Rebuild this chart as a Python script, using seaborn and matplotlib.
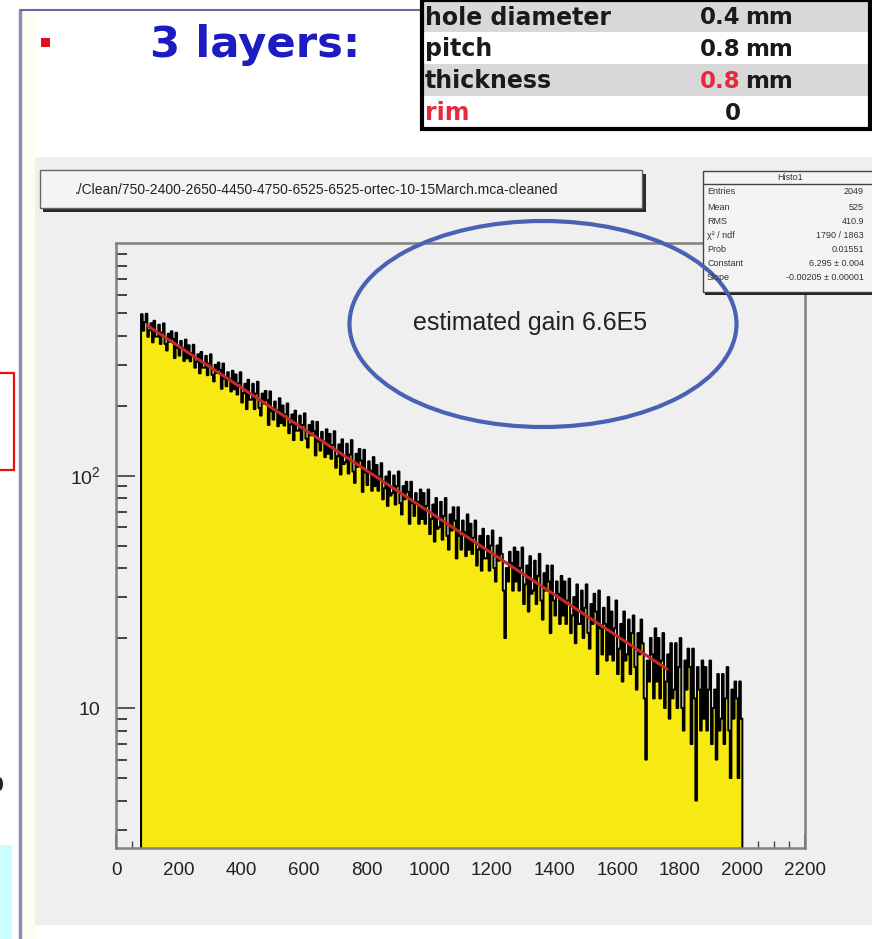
import numpy as np
import pandas as pd
import seaborn as sns
import matplotlib
matplotlib.use("Agg")
import matplotlib.pyplot as plt
from matplotlib import ticker
from matplotlib.patches import Rectangle, Ellipse

# ---------------- data ----------------
bin_start = 80
bin_width = 5
counts = [
    494, 420, 457, 496, 395, 421, 452, 374, 463, 396,
    396, 445, 368, 412, 451, 368, 345, 407, 376, 417,
    387, 320, 411, 354, 328, 379, 354, 311, 384, 319,
    363, 310, 336, 365, 291, 309, 332, 275, 340, 291,
    291, 327, 270, 303, 332, 271, 254, 299, 276, 306,
    285, 236, 303, 261, 242, 278, 261, 230, 282, 235,
    272, 223, 249, 278, 206, 226, 248, 193, 258, 212,
    212, 248, 193, 225, 253, 195, 181, 225, 204, 231,
    211, 165, 230, 189, 174, 208, 191, 163, 215, 168,
    200, 164, 183, 204, 152, 166, 183, 142, 190, 156,
    156, 181, 142, 165, 185, 144, 132, 165, 149, 171,
    155, 122, 170, 140, 128, 154, 140, 120, 158, 124,
    151, 118, 135, 155, 108, 121, 136, 101, 143, 112,
    114, 137, 102, 123, 142, 104, 93, 124, 109, 130,
    116, 85, 129, 103, 91, 115, 105, 86, 120, 90,
    111, 86, 99, 113, 79, 88, 99, 74, 104, 82,
    84, 100, 75, 90, 104, 76, 68, 90, 79, 94,
    85, 62, 94, 76, 67, 84, 77, 62, 87, 65,
    84, 62, 74, 87, 56, 65, 75, 52, 80, 59,
    60, 77, 53, 67, 80, 55, 48, 68, 58, 73,
    64, 44, 73, 55, 48, 64, 57, 45, 68, 48,
    62, 46, 54, 64, 41, 48, 55, 39, 59, 44,
    44, 55, 39, 50, 58, 40, 35, 50, 43, 54,
    46, 32, 20, 40, 35, 47, 42, 32, 49, 35,
    47, 32, 40, 49, 28, 34, 41, 26, 45, 31,
    32, 43, 28, 37, 46, 29, 24, 38, 32, 41,
    35, 21, 41, 29, 25, 35, 31, 23, 37, 25,
    35, 23, 29, 36, 21, 25, 30, 19, 34, 23,
    23, 32, 20, 27, 34, 21, 18, 28, 23, 31,
    26, 14, 32, 22, 17, 27, 23, 16, 30, 17,
    26, 16, 22, 29, 14, 18, 23, 13, 26, 16,
    17, 24, 14, 21, 25, 15, 12, 21, 17, 24,
    19, 11, 6, 16, 13, 20, 17, 11, 22, 13,
    20, 11, 16, 21, 10, 13, 17, 9, 19, 11,
    12, 19, 10, 15, 20, 10, 8, 16, 12, 18,
    15, 7, 18, 11, 4, 15, 12, 8, 16, 9,
    15, 8, 12, 16, 7, 10, 12, 6, 14, 8,
    9, 14, 7, 11, 15, 8, 5, 12, 9, 13,
    11, 5, 13, 9,
]
fit_constant = 6.295
fit_slope = -0.00205
fit_range = [100, 1760]

x_tick_values = [0, 200, 400, 600, 800, 1000, 1200, 1400, 1600, 1800, 2000, 2200]
y_tick_values = [10, 100]
y_tick_labels = ["10", r"$\mathregular{10^{2}}$"]

title_path = "./Clean/750-2400-2650-4450-4750-6525-6525-ortec-10-15March.mca-cleaned"
stats_name = "Histo1"
stats_labels = ["Entries", "Mean", "RMS", "χ² / ndf", "Prob", "Constant", "Slope"]
stats_values = ["2049", "525", "410.9", "1790 / 1863", "0.01551",
                "6.295 ± 0.004", "-0.00205 ± 0.00001"]

table_labels = ["hole diameter", "pitch", "thickness", "rim"]
table_values = ["0.4", "0.8", "0.8", "0"]
table_units = ["mm", "mm", "mm", ""]
slide_title = "3 layers:"
note_text = "estimated gain 6.6E5"

# ---------------- style ----------------
sns.set_theme(style="ticks")
NARROW = ["Liberation Sans", "DejaVu Sans"]
plt.rcParams["font.family"] = ["DejaVu Sans"]
plt.rcParams["mathtext.fontset"] = "custom"
plt.rcParams["mathtext.rm"] = "Liberation Sans"

W, H = 872, 939
fig = plt.figure(figsize=(W / 100, H / 100), dpi=100)
fig.patch.set_facecolor("white")
renderer = fig.canvas.get_renderer()


def fit_width(t, target_px):
    w = t.get_window_extent(renderer).width
    if w > 0:
        t.set_fontsize(t.get_fontsize() * target_px / w)
    return t


# background / slide decorations (pixel coordinates)
bg = fig.add_axes([0, 0, 1, 1], zorder=0)
bg.set_xlim(0, W); bg.set_ylim(H, 0); bg.axis("off")
bg.add_patch(Rectangle((22, 10), 13, 929, facecolor="#fdfdf0", edgecolor="none"))
bg.add_patch(Rectangle((35, 157), 837, 768, facecolor="#efefef", edgecolor="none"))
bg.plot([20, 20], [10, 939], color="#8a8ab8", lw=2.5, solid_capstyle="butt")
bg.plot([20, 424], [10, 10], color="#6a6aa0", lw=1.5)
bg.add_patch(Rectangle((41, 38), 9, 9, facecolor="#e01020", edgecolor="none"))
bg.add_patch(Rectangle((-3, 373), 17, 97, facecolor="none", edgecolor="#ee1010", lw=1.6))
bg.add_patch(Rectangle((0, 845), 12, 94, facecolor="#ccffff", edgecolor="none"))
bg.add_patch(Ellipse((0, 784), 6, 13, facecolor="#222222", edgecolor="none"))
t = bg.text(255, 45, slide_title, color="#1c1cc0", fontsize=30, fontweight="bold",
            ha="center", va="center")
fit_width(t, 210)

# ---------------- main histogram axes ----------------
ax = fig.add_axes([116 / W, 1 - 848 / H, (805 - 116) / W, (848 - 243) / H], zorder=2)
ax.set_facecolor("#efefef")
ax.set_yscale("log")

n_bins = len(counts)
centers = bin_start + bin_width * (np.arange(n_bins) + 0.5)
df = pd.DataFrame({"x": centers, "w": counts})
sns.histplot(data=df, x="x", weights="w", binwidth=bin_width,
             binrange=(bin_start, bin_start + bin_width * n_bins),
             element="step", fill=True,
             facecolor="#f6ea12", edgecolor="black", linewidth=1.45, alpha=1,
             ax=ax, zorder=2)

fit_x = np.array(fit_range, dtype=float)
fit_df = pd.DataFrame({"x": fit_x, "y": np.exp(fit_constant + fit_slope * fit_x)})
sns.lineplot(data=fit_df, x="x", y="y", color="#c42a2a", lw=2.2, ax=ax, zorder=3)

ax.set_xlim(0, 2200)
ax.set_ylim(2.5, 1000)
ax.set_xlabel(""); ax.set_ylabel("")
ax.xaxis.set_major_locator(ticker.FixedLocator(x_tick_values))
ax.xaxis.set_minor_locator(ticker.MultipleLocator(50))
ax.yaxis.set_major_locator(ticker.FixedLocator(y_tick_values))
ax.yaxis.set_major_formatter(ticker.FixedFormatter(y_tick_labels))
ax.yaxis.set_minor_locator(ticker.LogLocator(base=10, subs=np.arange(2, 10)))
ax.yaxis.set_minor_formatter(ticker.NullFormatter())
ax.tick_params(axis="x", which="major", direction="in", length=10, width=1.2,
               color="#444444", pad=10, labelsize=13.5, labelcolor="#222222")
ax.tick_params(axis="x", which="minor", direction="in", length=5, width=1.0, color="#444444")
ax.tick_params(axis="y", which="major", direction="in", length=14, width=1.4,
               color="#555555", pad=11, labelsize=14, labelcolor="#222222")
ax.tick_params(axis="y", which="minor", direction="in", length=8, width=1.4, color="#444444")
for lab in ax.get_xticklabels() + ax.get_yticklabels():
    lab.set_family(NARROW)
for s in ax.spines.values():
    s.set_color("#808080"); s.set_linewidth(1.8); s.set_visible(True)

# ---------------- overlay: boxes, table, ellipse ----------------
ov = fig.add_axes([0, 0, 1, 1], zorder=5)
ov.set_xlim(0, W); ov.set_ylim(H, 0); ov.axis("off"); ov.patch.set_alpha(0)

# title box
ov.add_patch(Rectangle((43, 174), 603, 38, facecolor="#2a2a2a", edgecolor="none"))
ov.add_patch(Rectangle((40, 170), 602, 38, facecolor="#f4f4f4", edgecolor="#666666", lw=1))
t = ov.text(75, 190, title_path, family=NARROW, fontsize=11, color="#222222", va="center", ha="left")
fit_width(t, 481)

# stats box
ov.add_patch(Rectangle((705, 173), 170, 122, facecolor="#222222", edgecolor="none"))
ov.add_patch(Rectangle((703, 171), 172, 121, facecolor="#f4f4f4", edgecolor="#444444", lw=1))
ov.plot([703, 872], [184, 184], color="#444444", lw=1)
ov.text(790, 177.5, stats_name, family=NARROW, fontsize=6.5, ha="center", va="center", color="#333333")
row_y = [192, 207, 221, 236, 250, 264, 278]
for lab, val, yy in zip(stats_labels, stats_values, row_y):
    ov.text(707, yy, lab, family=NARROW, fontsize=6.5, ha="left", va="center", color="#333333")
    ov.text(864, yy, val, family=NARROW, fontsize=6.5, ha="right", va="center", color="#333333")

# ellipse + annotation
ov.add_patch(Ellipse((543, 324), 387, 206, facecolor="none", edgecolor="#4a62b4", lw=3))
t = ov.text(530, 323, note_text, family=NARROW, fontsize=18, ha="center", va="center", color="#222222")
fit_width(t, 234)

# parameter table
row_tops = [1, 32, 64, 96]
row_h = 32
for i, (lab, val, unit, top) in enumerate(zip(table_labels, table_values, table_units, row_tops)):
    fc = "#d8d8d8" if i % 2 == 0 else "white"
    ov.add_patch(Rectangle((422, top), 448, row_h, facecolor=fc, edgecolor="none"))
    yc = top + row_h / 2 + 1
    lab_color = "#e8283c" if lab == "rim" else "#1a1a1a"
    ov.text(425, yc, lab, fontsize=17, fontweight="bold", color=lab_color, ha="left", va="center")
    val_color = "#e8283c" if lab == "thickness" else "#1a1a1a"
    if unit:
        ov.text(740, yc, val, fontsize=16.5, fontweight="bold", color=val_color, ha="right", va="center")
        ov.text(745, yc, unit, fontsize=16.5, fontweight="bold", color="#1a1a1a", ha="left", va="center")
    else:
        ov.text(733, yc, val, fontsize=16.5, fontweight="bold", color=val_color, ha="center", va="center")
ov.add_patch(Rectangle((422, 0), 448, 129, facecolor="none", edgecolor="black", lw=3))

fig.savefig("out.png", dpi=100)
